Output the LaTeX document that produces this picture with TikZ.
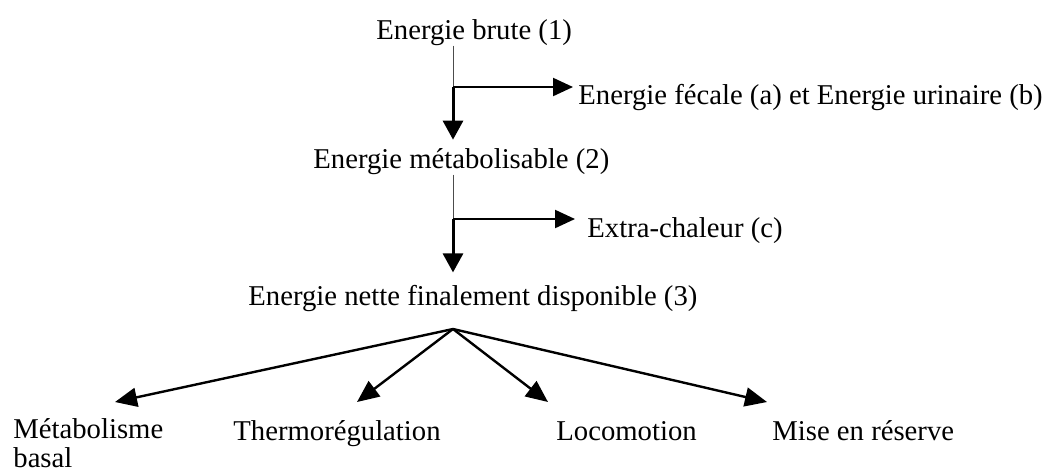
\documentclass[tikz,border=0pt]{standalone}
\usepackage{fontspec}
\setmainfont{Liberation Serif}
\usetikzlibrary{arrows.meta}

\begin{document}
\begin{tikzpicture}[
    x=0.5pt,
    y=-0.5pt,
    txt/.style={inner sep=0pt, anchor=base west, align=left, font=\fontsize{14.35}{14.5}\selectfont},
    feed/.style={line width=0.5pt, black!70},
    side/.style={line width=1.1pt, -{Triangle[length=10pt,width=9pt]}},
    down/.style={line width=1.5pt, -{Triangle[length=9.5pt,width=10pt]}},
    fan/.style={line width=1.2pt, -{Triangle[length=11pt,width=9.5pt]}}
]
    \useasboundingbox (0,0) rectangle (1049,473);

    % Energy levels
    \node [txt] (brute) at (376,39) {Energie brute (1)};
    \node [txt] (metab) at (313,168) {Energie métabolisable (2)};
    \node [txt] (nette) at (248,305) {Energie nette finalement disponible (3)};

    % Losses
    \node [txt] (fecal) at (578,104) {Energie fécale (a) et Energie urinaire (b)};
    \node [txt] (extra) at (587,237) {Extra-chaleur (c)};

    % Uses of net energy (base of a two-line node is its last line)
    \node [txt] (basal) at (13,467) {Métabolisme\\basal};
    \node [txt] (thermo) at (233,440) {Thermorégulation};
    \node [txt] (loco) at (556,440) {Locomotion};
    \node [txt] (reserve) at (772,440) {Mise en réserve};

    % Branch points
    \coordinate (j1) at (453,87);
    \coordinate (j2) at (453,219);
    \coordinate (hub) at (453,329);
    \coordinate (tbasal) at (115,402);
    \coordinate (tthermo) at (357,402);
    \coordinate (tloco) at (548,402);
    \coordinate (treserve) at (767,402);

    % Main chain
    \draw [feed] (j1 |- brute.south) -- (j1);
    \draw [down, shorten >=4pt] (j1) -- (j1 |- metab.north);
    \draw [side, shorten >=2.5pt] (j1) -- (j1 -| fecal.west);
    \draw [feed] (j2 |- metab.south) -- (j2);
    \draw [down, shorten >=6pt] (j2) -- (j2 |- nette.north);
    \draw [side, shorten >=6pt] (j2) -- (j2 -| extra.west);

    % Split of net energy
    \draw [fan] (hub) -- (tbasal);
    \draw [fan] (hub) -- (tthermo);
    \draw [fan] (hub) -- (tloco);
    \draw [fan] (hub) -- (treserve);
\end{tikzpicture}
\end{document}
